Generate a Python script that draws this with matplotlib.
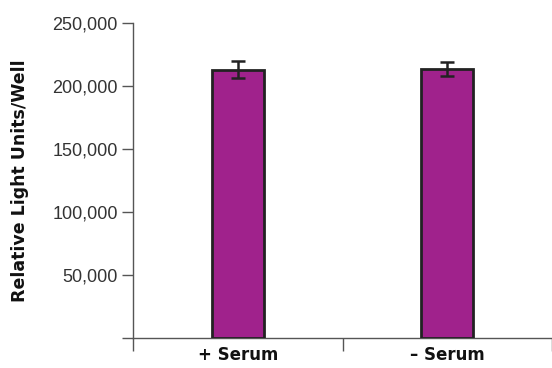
import numpy as np
import matplotlib
matplotlib.use('Agg')
import matplotlib.pyplot as plt

# Werte
categories = ['+ Serum', '\u2013 Serum']
rlu = [213000, 213500]
rlu_err = [6500, 5500]
y_ticks = [0, 50000, 100000, 150000, 200000, 250000]
y_tick_labels = ['', '50,000', '100,000', '150,000', '200,000', '250,000']

bold_font = ['DejaVu Sans']
light = ['Liberation Sans', 'DejaVu Sans']

fig = plt.figure(figsize=(5.52, 3.68), dpi=100)
ax = fig.add_axes([133 / 552, 1 - 338 / 368, 1 - 133 / 552, (338 - 23) / 368])

x = np.arange(len(categories))
ax.bar(x, rlu, width=0.25, color='#A0228C', edgecolor='#222222', linewidth=2,
       yerr=rlu_err, error_kw=dict(ecolor='#222222', elinewidth=1.8,
                                   capsize=5, capthick=1.8), zorder=3)

ax.set_xlim(-0.5, 1.5)
ax.set_ylim(0, 250000)

for side in ['top', 'right']:
    ax.spines[side].set_visible(False)
for side in ['left', 'bottom']:
    ax.spines[side].set_color('#555555')
    ax.spines[side].set_linewidth(1.0)

ax.set_yticks(y_ticks)
ax.set_yticklabels(y_tick_labels, family=light, fontsize=13, color='#333333')
ax.tick_params(axis='y', length=8, width=1.0, color='#555555', pad=3)

ax.set_xticks([-0.5, 0.5, 1.5])
ax.set_xticklabels(['', '', ''])
ax.tick_params(axis='x', length=9, width=1.0, color='#555555')
ax.set_xticks(x, minor=True)
ax.set_xticklabels(categories, minor=True, family=bold_font, fontweight='bold',
                   fontsize=12, color='#111111')
ax.tick_params(axis='x', which='minor', length=0, pad=6)

ax.set_ylabel('Relative Light Units/Well', family=bold_font, fontweight='bold',
              fontsize=12.5, color='#111111', labelpad=17)

fig.savefig('out.png', dpi=100)
